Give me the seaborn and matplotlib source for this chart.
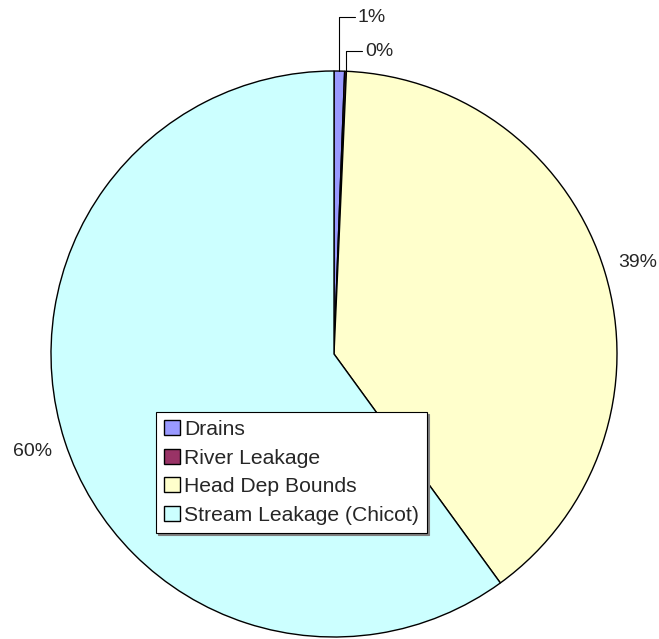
import matplotlib.pyplot as plt
import matplotlib.patches as mpatches
import seaborn as sns
import numpy as np

# Dados
categorias = ['Drains', 'River Leakage', 'Head Dep Bounds', 'Stream Leakage (Chicot)']
valores = [0.6, 0.1, 39.3, 60.0]
rotulos = ['1%', '0%', '39%', '60%']
cores = ['#9999FF', '#993366', '#FFFFCC', '#CCFFFF']

sns.set_style("white")
plt.rcParams['font.family'] = ['Liberation Sans', 'DejaVu Sans']

fig = plt.figure(figsize=(6.59, 6.39), dpi=100)
ax = fig.add_axes([0, 0, 1, 1])

wedges, _ = ax.pie(valores, colors=sns.color_palette(cores), startangle=90,
                   counterclock=False, radius=1.0,
                   wedgeprops=dict(edgecolor='black', linewidth=1.0))

# centro e raio em pixels (definir limites depois do pie)
cx, cy, r = 334, 354, 283
ax.set_xlim(-cx / r, (659 - cx) / r)
ax.set_ylim(-(639 - cy) / r, cy / r)
ax.set_aspect('equal')
ax.axis('off')

# rótulos das fatias grandes
for w, txt in zip(wedges[2:], rotulos[2:]):
    ang = np.deg2rad((w.theta1 + w.theta2) / 2)
    ax.text(1.12 * np.cos(ang), 1.12 * np.sin(ang), txt, ha='center', va='center', fontsize=14)

# rótulos das fatias pequenas com linhas de chamada
alturas = [1.19, 1.07]
fim_x = [0.074, 0.099]
for w, txt, h, fx in zip(wedges[:2], rotulos[:2], alturas, fim_x):
    ang = np.deg2rad((w.theta1 + w.theta2) / 2)
    x0, y0 = np.cos(ang), np.sin(ang)
    ax.plot([x0, x0, fx], [y0, h, h], color='black', lw=0.8)
    ax.text(fx + 0.01, h, txt, ha='left', va='center', fontsize=14)

handles = [mpatches.Patch(facecolor=c, edgecolor='black', linewidth=1.0) for c in cores]
leg = fig.legend(handles, categorias, loc='lower left', bbox_to_anchor=(156 / 659, 106 / 639),
                 fontsize=15.2, frameon=True, fancybox=False, edgecolor='black',
                 handlelength=0.72, handleheight=0.72, handletextpad=0.2,
                 labelspacing=0.45, borderpad=0.4, borderaxespad=0,
                 shadow={'ox': 1.5, 'oy': -1.5, 'color': 'gray', 'alpha': 1.0})
leg.get_frame().set_linewidth(0.8)

plt.savefig('out.png', dpi=100)
plt.close()
